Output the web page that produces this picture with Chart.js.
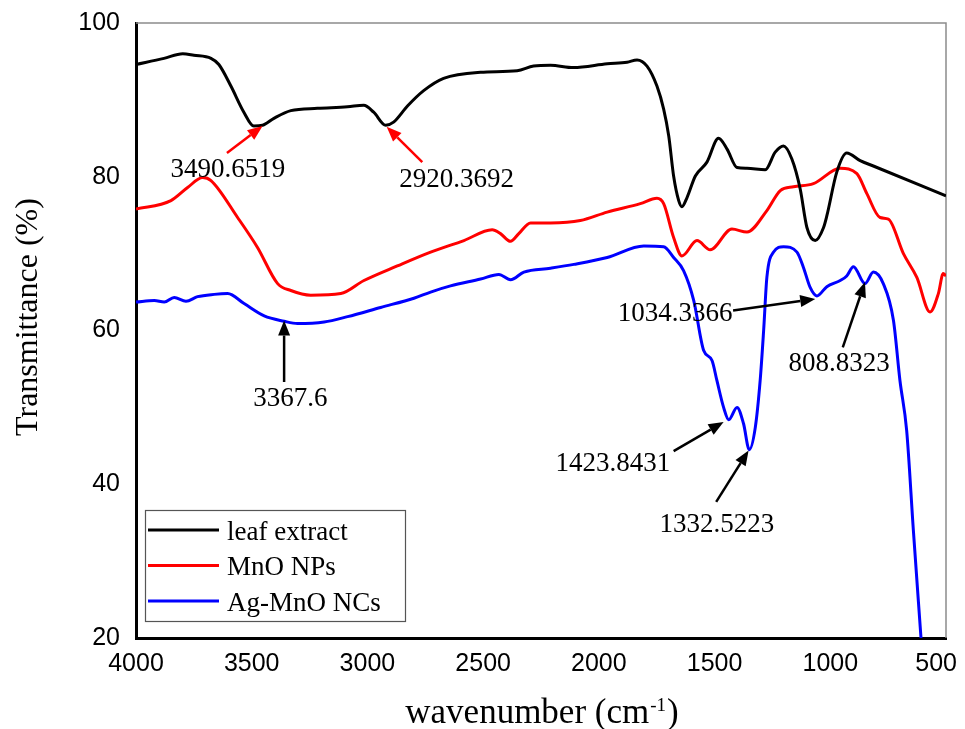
<!DOCTYPE html>
<html>
<head>
<meta charset="utf-8">
<script src="https://cdn.jsdelivr.net/npm/chart.js@4.4.1/dist/chart.umd.min.js"></script>
<style>
  html, body { margin: 0; padding: 0; background: #fff; }
</style>
</head>
<body>
<canvas id="ftir" width="965" height="729"></canvas>
<script>
// axis ticks
var xTicks = [4000, 3500, 3000, 2500, 2000, 1500, 1000, 500];
var yTicks = [20, 40, 60, 80, 100];

var seriesNames  = ['leaf extract', 'MnO NPs', 'Ag-MnO NCs'];
var seriesColors = ['#000000', '#ff0000', '#0000ff'];

// leaf extract
var leafWn = [4000,3879,3798,3750,3676,3642,3590,3534,3491,3453,3404,3331,3216,3086,3016,2973,2921,2887,2827,2757,
              2671,2511,2353,2282,2209,2110,1964,1878,1835,1792,1749,1720,1698,1677,1655,1641,1619,1583,1533,1483,
              1446,1403,1360,1281,1238,1202,1166,1130,1101,1065,1029,1015,972,929,871,814,500];
var leafT  = [94.6,95.4,96.0,95.8,95.4,94.6,91.8,88.4,86.6,86.7,87.6,88.6,88.9,89.1,89.3,88.4,86.7,87.1,89.2,91.2,
              92.8,93.6,93.8,94.4,94.5,94.2,94.7,94.9,95.2,94.4,91.8,88.8,85.3,80.1,76.9,76.1,77.3,80.1,81.9,85.0,
              83.6,81.2,81.1,80.9,83.2,84.0,82.3,78.4,73.4,71.7,73.4,74.9,80.6,83.1,82.1,81.4,77.5];

// MnO NPs
var mnoWn = [4000,3849,3777,3712,3676,3561,3475,3388,3331,3245,3115,3015,2871,2727,2583,2461,2425,2382,2346,2295,
             2209,2080,1964,1821,1749,1720,1677,1641,1576,1519,1425,1360,1274,1216,1159,1073,957,885,842,785,
             749,684,626,569,533,512,500];
var mnoT  = [75.8,76.9,78.6,79.9,79.5,74.7,70.8,66.1,65.2,64.6,64.8,66.5,68.4,70.2,71.7,73.1,72.6,71.6,72.6,74.0,
             74.0,74.3,75.4,76.5,77.2,76.5,72.1,69.7,71.7,70.5,73.2,72.8,75.6,78.2,78.7,79.1,81.1,80.4,77.8,74.7,
             74.5,70.0,66.9,62.4,64.8,67.4,67.1];

// Ag-MnO NCs
var agWn = [4000,3921,3878,3835,3784,3734,3662,3604,3533,3446,3360,3302,3187,3086,2943,2799,2727,2641,2511,2432,
            2382,2324,2209,2108,1964,1806,1720,1677,1634,1590,1547,1511,1490,1461,1439,1403,1375,1350,1324,1303,
            1288,1274,1245,1202,1144,1116,1087,1058,1015,957,929,900,850,814,771,727,699,670,641,608];
var agT  = [63.7,63.9,63.7,64.3,63.8,64.4,64.7,64.8,63.5,61.9,61.2,60.9,61.1,61.8,63.0,64.2,65.0,65.8,66.7,67.3,
            66.6,67.6,68.1,68.6,69.5,71.0,70.9,69.5,67.8,63.9,57.4,56.1,53.5,50.0,48.4,50.0,47.9,44.5,47.4,53.5,
            60.0,66.9,70.2,70.9,70.2,68.2,65.6,64.5,65.7,66.5,67.1,68.3,66.1,67.6,66.1,61.3,53.5,47.0,34.0,20.0];

// peak labels: text, colour, text centre, arrow tail, arrow head (data units)
var peaks = [
  { text: '3490.6519', color: '#ff0000', at: [3603, 81.2], from: [3607, 83.1], to: [3453, 86.6] },
  { text: '2920.3692', color: '#ff0000', at: [2615, 79.9], from: [2763, 81.9], to: [2917, 86.5] },
  { text: '3367.6',    color: '#000000', at: [3333, 51.3], from: [3360, 53.3], to: [3360, 61.3] },
  { text: '1034.3366', color: '#000000', at: [1670, 62.4], from: [1420, 62.6], to: [1065, 64.1] },
  { text: '808.8323',  color: '#000000', at: [962, 55.9],  from: [946, 57.8],  to: [850, 66.3] },
  { text: '1423.8431', color: '#000000', at: [1939, 42.9], from: [1677, 44.3], to: [1461, 48.1] },
  { text: '1332.5223', color: '#000000', at: [1490, 34.9], from: [1493, 37.7], to: [1353, 44.4] }
];

function pts(xs, ys) {
  return xs.map(function (x, i) { return { x: x, y: ys[i] }; });
}

var serif = '"Liberation Serif", "Times New Roman", serif';
var sans = '"Liberation Sans", Arial, sans-serif';

function arrow(ctx, x1, y1, x2, y2, color) {
  var ang = Math.atan2(y2 - y1, x2 - x1);
  var hl = 15, hw = 6;
  var bx = x2 - hl * Math.cos(ang), by = y2 - hl * Math.sin(ang);
  ctx.strokeStyle = color;
  ctx.fillStyle = color;
  ctx.lineWidth = 2.5;
  ctx.beginPath();
  ctx.moveTo(x1, y1);
  ctx.lineTo(bx, by);
  ctx.stroke();
  ctx.beginPath();
  ctx.moveTo(x2, y2);
  ctx.lineTo(bx + hw * Math.sin(ang), by - hw * Math.cos(ang));
  ctx.lineTo(bx - hw * Math.sin(ang), by + hw * Math.cos(ang));
  ctx.closePath();
  ctx.fill();
}

var decor = {
  id: 'decor',
  beforeDatasetsDraw: function (chart) {
    var ctx = chart.ctx, a = chart.chartArea;
    ctx.save();
    ctx.strokeStyle = '#8c8c8c';
    ctx.lineWidth = 1.5;
    ctx.beginPath();
    ctx.moveTo(a.left, a.top);
    ctx.lineTo(a.right, a.top);
    ctx.lineTo(a.right, a.bottom);
    ctx.stroke();
    ctx.restore();
  },
  afterDatasetsDraw: function (chart) {
    var ctx = chart.ctx, a = chart.chartArea;
    var xs = chart.scales.x, ys = chart.scales.y;
    ctx.save();

    // x tick labels (last one kept inside the canvas, as in the original)
    ctx.font = '25px ' + sans;
    ctx.fillStyle = '#000';
    ctx.textAlign = 'center';
    ctx.textBaseline = 'middle';
    xTicks.forEach(function (v) {
      var px = xs.getPixelForValue(v);
      var w = ctx.measureText(String(v)).width;
      px = Math.min(px, chart.width - 8 - w / 2);
      ctx.fillText(String(v), px, a.bottom + 26);
    });

    // peak annotations
    ctx.font = '27px ' + serif;
    ctx.textAlign = 'center';
    ctx.textBaseline = 'alphabetic';
    peaks.forEach(function (p) {
      arrow(ctx, xs.getPixelForValue(p.from[0]), ys.getPixelForValue(p.from[1]),
                 xs.getPixelForValue(p.to[0]), ys.getPixelForValue(p.to[1]), p.color);
      ctx.fillStyle = '#000';
      ctx.fillText(p.text, xs.getPixelForValue(p.at[0]), ys.getPixelForValue(p.at[1]) + 9);
    });

    // legend box inside the plot
    var lx = a.left + 9, ly = a.bottom - 128;
    ctx.fillStyle = '#fff';
    ctx.fillRect(lx, ly, 260, 111);
    ctx.strokeStyle = '#555';
    ctx.lineWidth = 1.2;
    ctx.strokeRect(lx + 0.5, ly + 0.5, 260, 111);
    ctx.textAlign = 'left';
    seriesNames.forEach(function (name, i) {
      var y = ly + 20 + i * 35.5;
      ctx.strokeStyle = seriesColors[i];
      ctx.lineWidth = 3;
      ctx.beginPath();
      ctx.moveTo(lx + 3, y);
      ctx.lineTo(lx + 74, y);
      ctx.stroke();
      ctx.fillStyle = '#000';
      ctx.fillText(name, lx + 82, y + 9.5);
    });

    // y title
    ctx.save();
    ctx.translate(37, 317);
    ctx.rotate(-Math.PI / 2);
    ctx.font = '32px ' + serif;
    ctx.textAlign = 'center';
    ctx.fillStyle = '#000';
    ctx.fillText('Transmittance (%)', 0, 0);
    ctx.restore();

    // x title with superscript
    var main = 'wavenumber (cm', sup = '-1', tail = ')';
    ctx.font = '35px ' + serif;
    var w1 = ctx.measureText(main).width, w3 = ctx.measureText(tail).width;
    ctx.font = '19px ' + serif;
    var w2 = ctx.measureText(sup).width;
    var x0 = 541 - (w1 + w2 + w3) / 2, base = 723;
    ctx.fillStyle = '#000';
    ctx.font = '35px ' + serif;
    ctx.fillText(main, x0, base);
    ctx.font = '19px ' + serif;
    ctx.fillText(sup, x0 + w1 + 1, base - 12);
    ctx.font = '35px ' + serif;
    ctx.fillText(tail, x0 + w1 + w2 + 2, base);

    ctx.restore();
  }
};

new Chart(document.getElementById('ftir'), {
  type: 'line',
  data: {
    datasets: [
      { label: seriesNames[0], data: pts(leafWn, leafT), borderColor: seriesColors[0] },
      { label: seriesNames[1], data: pts(mnoWn, mnoT), borderColor: seriesColors[1] },
      { label: seriesNames[2], data: pts(agWn, agT), borderColor: seriesColors[2] }
    ]
  },
  options: {
    responsive: false,
    animation: false,
    parsing: false,
    layout: { padding: { left: 0, top: 23, right: 19, bottom: 0 } },
    elements: {
      point: { radius: 0 },
      line: { borderWidth: 3, cubicInterpolationMode: 'monotone', fill: false }
    },
    plugins: {
      legend: { display: false },
      tooltip: { enabled: false }
    },
    scales: {
      x: {
        type: 'linear',
        reverse: true,
        min: xTicks[xTicks.length - 1],
        max: xTicks[0],
        grid: { display: false, drawTicks: false },
        border: { display: true, color: '#000', width: 3 },
        afterBuildTicks: function (s) { s.ticks = xTicks.map(function (v) { return { value: v }; }); },
        ticks: { display: false },
        afterFit: function (s) { s.height = 91; s.paddingLeft = 0; s.paddingRight = 0; }
      },
      y: {
        min: yTicks[0],
        max: yTicks[yTicks.length - 1],
        grid: { display: false, drawTicks: false },
        border: { display: true, color: '#000', width: 3 },
        afterBuildTicks: function (s) { s.ticks = yTicks.map(function (v) { return { value: v }; }); },
        ticks: {
          color: '#000', font: { family: sans, size: 25 }, padding: 16,
          callback: function (v) { return String(v); }
        },
        afterFit: function (s) { s.width = 136; s.paddingTop = 0; s.paddingBottom = 0; }
      }
    }
  },
  plugins: [decor]
});
</script>
</body>
</html>
